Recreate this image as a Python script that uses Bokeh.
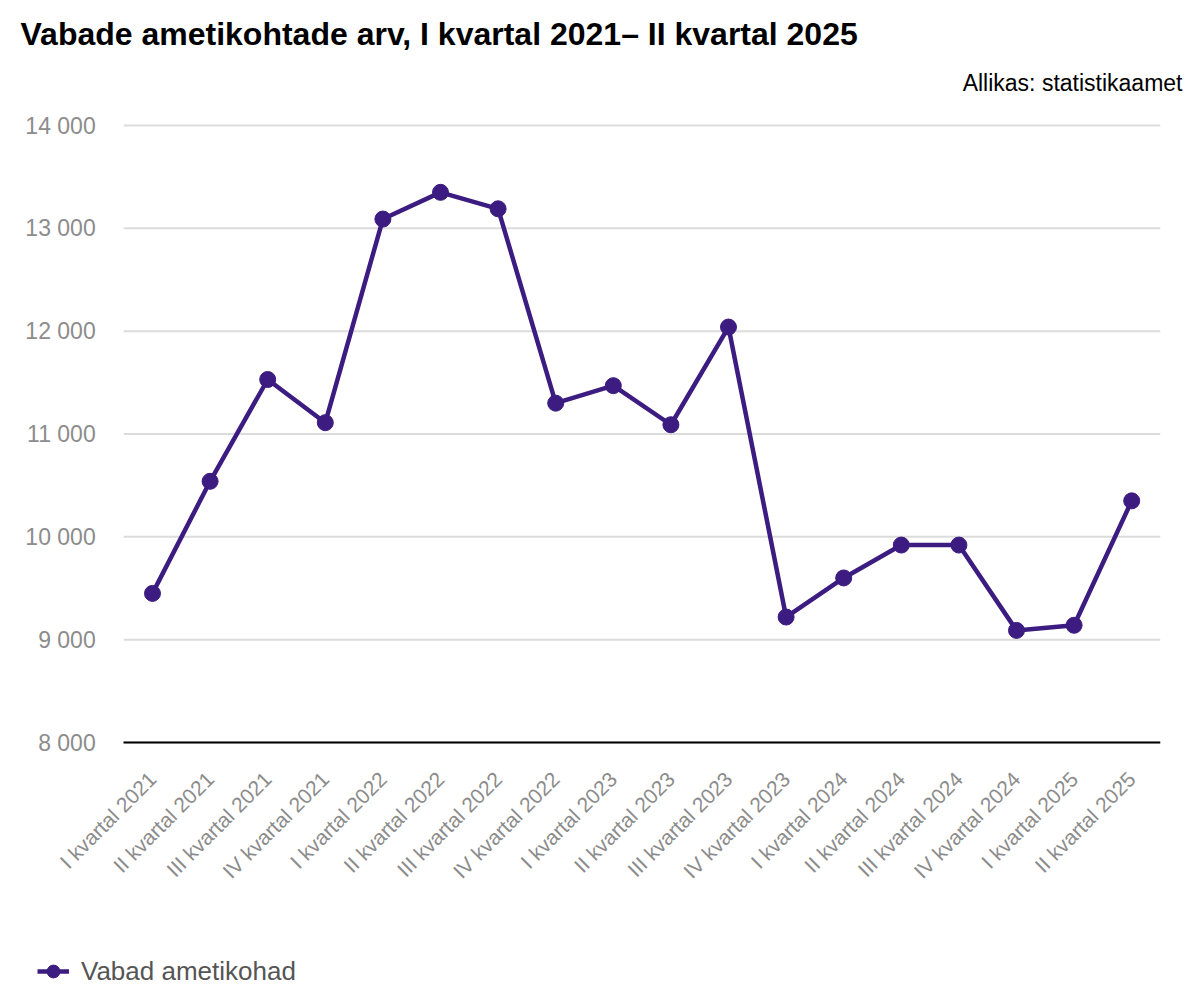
import math
from bokeh.plotting import figure
from bokeh.models import Title, Legend, LegendItem, FixedTicker
from bokeh.embed import file_html
from bokeh.resources import INLINE

quarters = [
    "I kvartal 2021", "II kvartal 2021", "III kvartal 2021", "IV kvartal 2021",
    "I kvartal 2022", "II kvartal 2022", "III kvartal 2022", "IV kvartal 2022",
    "I kvartal 2023", "II kvartal 2023", "III kvartal 2023", "IV kvartal 2023",
    "I kvartal 2024", "II kvartal 2024", "III kvartal 2024", "IV kvartal 2024",
    "I kvartal 2025", "II kvartal 2025",
]
vacancies = [9450, 10540, 11530, 11110, 13090, 13350, 13190, 11300, 11470,
             11090, 12040, 9220, 9600, 9920, 9920, 9090, 9140, 10350]
y_ticks = [8000, 9000, 10000, 11000, 12000, 13000, 14000]
y_tick_labels = ["8 000", "9 000", "10 000", "11 000", "12 000", "13 000", "14 000"]

FONT = "Liberation Sans"
COLOR = "#3c1c80"

# two empty slots on the left give room for the value labels and the
# rotated category labels inside the frame
pad = ["", " "]
factors = pad + quarters
n_pad = len(pad)
n_all = len(factors)

# value axis 8000..14000 spans 617 px; the frame extends a little above and
# further below so that all labels and the legend sit inside it
PLOT_H = 617
EXTRA_TOP = 16
EXTRA_H = 252
y_min, y_max = y_ticks[0], y_ticks[-1]
y_start = y_min - (y_max - y_min) * EXTRA_H / PLOT_H
y_end = y_max + (y_max - y_min) * EXTRA_TOP / PLOT_H

p = figure(x_range=factors, y_range=(y_start, y_end),
           frame_width=1152, frame_height=PLOT_H + EXTRA_H + EXTRA_TOP,
           output_backend="svg", toolbar_location=None, title=None,
           min_border_left=8, min_border_right=30, min_border_top=0,
           min_border_bottom=0)
p.outline_line_color = None
p.background_fill_color = "white"
p.xgrid.grid_line_color = None
p.ygrid.grid_line_color = None

# horizontal grid lines across the data area only
p.segment(x0=[n_pad] * len(y_ticks), x1=[n_all] * len(y_ticks),
          y0=y_ticks, y1=y_ticks, line_color="#dcdcdc", line_width=2)

line = p.line(quarters, vacancies, line_width=4.5, color=COLOR)
pts = p.scatter(quarters, vacancies, size=16, color=COLOR)

# titles (first added = closest to the frame)
spacer_top = Title(text=" ", text_font_size="1px", standoff=8)
p.add_layout(spacer_top, "above")
src = Title(text="Allikas: statistikaamet", align="right", offset=-22,
            text_font=FONT, text_font_size="23px", text_font_style="normal",
            text_color="black", standoff=6)
p.add_layout(src, "above")
main = Title(text="Vabade ametikohtade arv, I kvartal 2021– II kvartal 2025",
             align="left", offset=12, text_font=FONT, text_font_size="32px",
             text_font_style="bold", text_color="black", standoff=26)
p.add_layout(main, "above")

# y axis, drawn at the left edge of the data area
p.yaxis.fixed_location = n_pad
p.yaxis.ticker = FixedTicker(ticks=y_ticks)
p.yaxis.major_label_overrides = {t: l for t, l in zip(y_ticks, y_tick_labels)}
p.yaxis.axis_line_color = None
p.yaxis.major_tick_line_color = None
p.yaxis.minor_tick_line_color = None
p.yaxis.major_label_text_font = FONT
p.yaxis.major_label_text_font_size = "23px"
p.yaxis.major_label_text_color = "#8c8c8c"
p.yaxis.major_label_standoff = 22

# x axis, drawn at the 8 000 baseline
p.xaxis.fixed_location = y_min
p.xaxis.bounds = (n_pad, n_all)
p.xaxis.axis_line_color = "black"
p.xaxis.axis_line_width = 2
p.xaxis.major_tick_line_color = None
p.xaxis.minor_tick_line_color = None
p.xaxis.major_label_orientation = math.pi / 4
p.xaxis.major_label_text_font = FONT
p.xaxis.major_label_text_font_size = "21px"
p.xaxis.major_label_text_color = "#8c8c8c"
p.xaxis.major_label_standoff = 27

legend = Legend(items=[LegendItem(label="Vabad ametikohad", renderers=[line, pts])],
                location=(29, 6), orientation="horizontal",
                label_text_font=FONT, label_text_font_size="26px",
                label_text_color="#555555", glyph_width=32, glyph_height=34,
                border_line_color=None, background_fill_alpha=0,
                margin=0, padding=0, label_standoff=12)
p.add_layout(legend, "center")

open("out.html", "w").write(file_html(p, INLINE))
